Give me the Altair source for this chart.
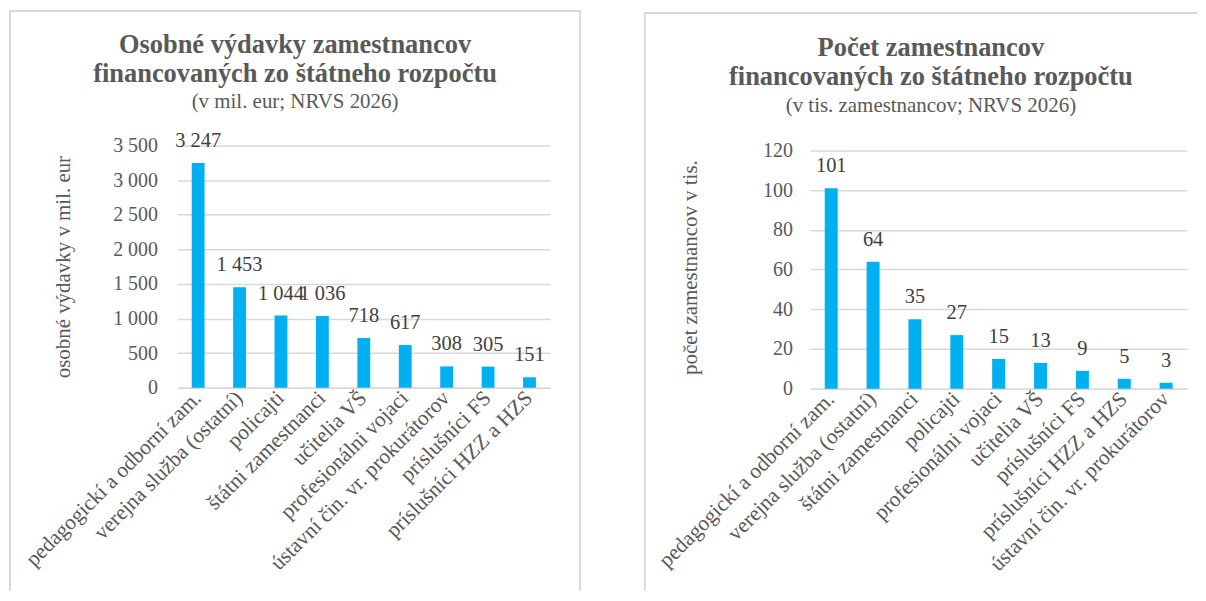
import altair as alt
import pandas as pd

FONT = "Liberation Serif"
GRAY = "#595959"
DARK = "#404040"
GRID = "#D9D9D9"
FRAME = "#D9D9D9"
BAR = "#00B0F0"

# ---- data ----
left_categories = [
    "pedagogickí a odborní zam.",
    "verejna služba (ostatní)",
    "policajti",
    "štátni zamestnanci",
    "učitelia VŠ",
    "profesionálni vojaci",
    "ústavní čin. vr. prokurátorov",
    "príslušníci FS",
    "príslušníci HZZ a HZS",
]
left_values = [3247, 1453, 1044, 1036, 718, 617, 308, 305, 151]
left_ticks = [0, 500, 1000, 1500, 2000, 2500, 3000, 3500]

right_categories = [
    "pedagogickí a odborní zam.",
    "verejna služba (ostatní)",
    "štátni zamestnanci",
    "policajti",
    "profesionálni vojaci",
    "učitelia VŠ",
    "príslušníci FS",
    "príslušníci HZZ a HZS",
    "ústavní čin. vr. prokurátorov",
]
right_values = [101, 64, 35, 27, 15, 13, 9, 5, 3]
right_ticks = [0, 20, 40, 60, 80, 100, 120]

left_title = ["Osobné výdavky zamestnancov", "financovaných zo štátneho rozpočtu"]
left_subtitle = "(v mil. eur; NRVS 2026)"
left_ytitle = "osobné výdavky v mil. eur"
right_title = ["Počet zamestnancov", "financovaných zo štátneho rozpočtu"]
right_subtitle = "(v tis. zamestnancov; NRVS 2026)"
right_ytitle = "počet zamestnancov v tis."

SEP = "replace(format({}, ','), ',', ' ')"


def frame_line(x1, x2, y1, y2):
    return alt.Chart(pd.DataFrame({"k": [0]})).mark_rule(
        color=FRAME, strokeWidth=2, strokeCap="square"
    ).encode(x=alt.value(x1), x2=alt.value(x2), y=alt.value(y1), y2=alt.value(y2))


def panel(cats, vals, ticks, ymax, ytitle, title_lines, subtitle, w, h,
          label_pad, ytitle_x, title_cx, title_y, sub_y, frames):
    df = pd.DataFrame({"cat": cats, "val": vals})
    x = alt.X(
        "cat:N", sort=cats, title=None,
        scale=alt.Scale(paddingInner=0.69, paddingOuter=0.345),
        axis=alt.Axis(
            labelAngle=-45, labelAlign="right", labelBaseline="middle",
            labelPadding=7, labelFont=FONT, labelFontSize=21.5, labelColor=GRAY,
            labelLimit=500, domainColor=GRID, domainWidth=1.5, ticks=False,
        ),
    )
    y = alt.Y(
        "val:Q", title=ytitle,
        scale=alt.Scale(domain=[0, ymax], nice=False, zero=True),
        axis=alt.Axis(
            values=ticks, grid=True, gridColor=GRID, gridWidth=1.5,
            domain=False, ticks=False, labelPadding=label_pad,
            labelFont=FONT, labelFontSize=20, labelColor=GRAY,
            labelExpr=SEP.format("datum.value"),
            titleFont=FONT, titleFontSize=21, titleFontWeight="normal",
            titleColor=GRAY, titleX=ytitle_x, titleY=h / 2,
            titleAlign="center", titleBaseline="middle",
        ),
    )
    base = alt.Chart(df).encode(x=x, y=y)
    bars = base.mark_bar(color=BAR)
    labels = base.transform_calculate(lab=SEP.format("datum.val")).mark_text(
        dy=-16, baseline="alphabetic", align="center", font=FONT,
        fontSize=20.5, color=DARK,
    ).encode(text="lab:N")

    title = alt.Chart(pd.DataFrame({"t": ["\n".join(title_lines)]})).mark_text(
        lineBreak="\n", lineHeight=29, font=FONT, fontSize=26.5,
        fontWeight="bold", color=GRAY, align="center", baseline="alphabetic",
    ).encode(text="t:N", x=alt.value(title_cx), y=alt.value(title_y))
    sub = alt.Chart(pd.DataFrame({"t": [subtitle]})).mark_text(
        font=FONT, fontSize=21, color=GRAY, align="center",
        baseline="alphabetic",
    ).encode(text="t:N", x=alt.value(title_cx), y=alt.value(sub_y))

    layers = [frame_line(*f) for f in frames] + [title, sub, bars, labels]
    return alt.layer(*layers).properties(width=w, height=h)


left = panel(
    left_categories, left_values, left_ticks, 3500, left_ytitle,
    left_title, left_subtitle, 374, 243, 20, -114, 118, -93, -38,
    frames=[(-168, -168, -135, 446), (-168, 404, -135, -135), (404, 404, -135, 446)],
)
right = panel(
    right_categories, right_values, right_ticks, 122.5, right_ytitle,
    right_title, right_subtitle, 378, 244, 18, -120, 121, -90, -34,
    frames=[(-166, -166, -133, 446), (-166, 387, -133, -133)],
)

chart = alt.hconcat(left, right, spacing=61).properties(
    padding={"left": 0, "top": 0, "right": 0, "bottom": 0}
).configure_view(stroke=None).configure_axis(
    labelFont=FONT, titleFont=FONT
).configure_text(font=FONT)

chart.save("out.html", embed_options={"renderer": "svg", "actions": False})
